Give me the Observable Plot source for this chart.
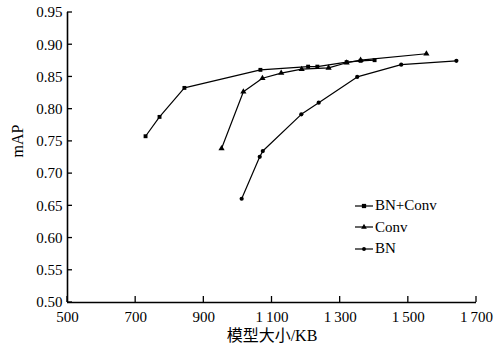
<!DOCTYPE html>
<html>
<head>
<meta charset="utf-8">
<script src="https://cdn.jsdelivr.net/npm/d3@7"></script>
<script src="https://cdn.jsdelivr.net/npm/@observablehq/plot@0.6"></script>
<style>
  body { margin: 0; background: #fff; }
  #wrap { position: relative; width: 499px; height: 352px; }
  #legend { position: absolute; left: 355px; top: 195px; font-size: 15px; font-family: "Liberation Serif", "Times New Roman", Tinos, "DejaVu Serif", serif; color: #000; }
  #legend .row { height: 21.5px; display: flex; align-items: center; }
  #legend svg { margin-right: 2px; }
</style>
</head>
<body>
<div id="wrap"><div id="legend"></div></div>
<script>
const series = ["BN+Conv", "Conv", "BN"];
const bnConvX = [729, 770, 843, 1066, 1206, 1233, 1319, 1360, 1401];
const bnConvY = [0.758, 0.788, 0.833, 0.861, 0.866, 0.866, 0.873, 0.875, 0.876];
const convX = [952, 1016, 1072, 1127, 1187, 1266, 1319, 1360, 1553];
const convY = [0.739, 0.827, 0.848, 0.856, 0.862, 0.864, 0.872, 0.876, 0.886];
const bnX = [1011, 1064, 1073, 1186, 1237, 1350, 1479, 1641];
const bnY = [0.661, 0.726, 0.735, 0.792, 0.810, 0.850, 0.869, 0.875];
const xTicks = [500, 700, 900, 1100, 1300, 1500, 1700];
const yTicks = [0.50, 0.55, 0.60, 0.65, 0.70, 0.75, 0.80, 0.85, 0.90, 0.95];
const xLabel = "模型大小/KB";
const yLabel = "mAP";
const symbols = {"BN+Conv": "square", "Conv": "triangle", "BN": "circle"};
const radii = {"BN+Conv": 2.2, "Conv": 2.3, "BN": 2.1};

const data = [];
[[bnConvX, bnConvY, "BN+Conv"], [convX, convY, "Conv"], [bnX, bnY, "BN"]].forEach(([xs, ys, s]) => {
  xs.forEach((x, i) => data.push({x, y: ys[i], s}));
});

const fmtX = d => d >= 1000 ? String(d).replace(/^(\d)(\d{3})$/, "$1\u2009$2") : String(d);
const font = "Liberation Serif, Times New Roman, Tinos, DejaVu Serif, Noto Sans CJK SC, serif";

const chart = Plot.plot({
  width: 499, height: 352,
  marginLeft: 67, marginRight: 23, marginTop: 12, marginBottom: 50,
  style: {fontFamily: font, fontSize: "15px", color: "#000", background: "#fff"},
  x: {type: "linear", domain: [500, 1700]},
  y: {type: "linear", domain: [0.5, 0.95]},
  marks: [
    Plot.axisX({ticks: xTicks, tickSize: 0, tickPadding: 9, tickFormat: fmtX, label: null, fontSize: 15, fontFamily: font}),
    Plot.axisY({ticks: yTicks, tickSize: 0, tickPadding: 5, tickFormat: d3.format(".2f"), label: null, fontSize: 15, fontFamily: font}),
    Plot.ruleY([0.5], {stroke: "#000", strokeWidth: 1.6}),
    Plot.ruleX([500], {stroke: "#000", strokeWidth: 1.6}),
    ...series.map(s => Plot.line(data.filter(d => d.s === s), {x: "x", y: "y", stroke: "#000", strokeWidth: 1.2})),
    ...series.map(s => Plot.dot(data.filter(d => d.s === s), {x: "x", y: "y", symbol: () => symbols[s], r: radii[s], fill: "#000", stroke: "none"})),
    Plot.text([xLabel], {frameAnchor: "bottom", dy: 38, text: d => d, fontSize: 16, fontFamily: font}),
    Plot.text([yLabel], {frameAnchor: "left", dx: -50, rotate: -90, text: d => d, fontSize: 16, fontFamily: font})
  ]
});
document.getElementById("wrap").prepend(chart);

// inward tick marks placed through the chart's own scales
const sx = chart.scale("x"), sy = chart.scale("y");
const svg = d3.select(chart);
const g = svg.append("g").attr("stroke", "#000").attr("stroke-width", 1.3);
xTicks.forEach(t => g.append("line").attr("x1", sx.apply(t)).attr("x2", sx.apply(t)).attr("y1", sy.apply(0.5)).attr("y2", sy.apply(0.5) - 6));
yTicks.forEach(t => g.append("line").attr("x1", sx.apply(500)).attr("x2", sx.apply(500) + 5).attr("y1", sy.apply(t)).attr("y2", sy.apply(t)));

// legend
const leg = d3.select("#legend");
series.forEach(s => {
  const row = leg.append("div").attr("class", "row");
  const sv = row.append("svg").attr("width", 18).attr("height", 10);
  sv.append("line").attr("x1", 0).attr("x2", 18).attr("y1", 5).attr("y2", 5).attr("stroke", "#000").attr("stroke-width", 1.2);
  sv.append("path").attr("transform", "translate(9,5)").attr("d", d3.symbol(s === "BN+Conv" ? d3.symbolSquare : s === "Conv" ? d3.symbolTriangle : d3.symbolCircle, s === "BN+Conv" ? 18 : s === "Conv" ? 14 : 12)()).attr("fill", "#000");
  row.append("span").text(s);
});
</script>
</body>
</html>
